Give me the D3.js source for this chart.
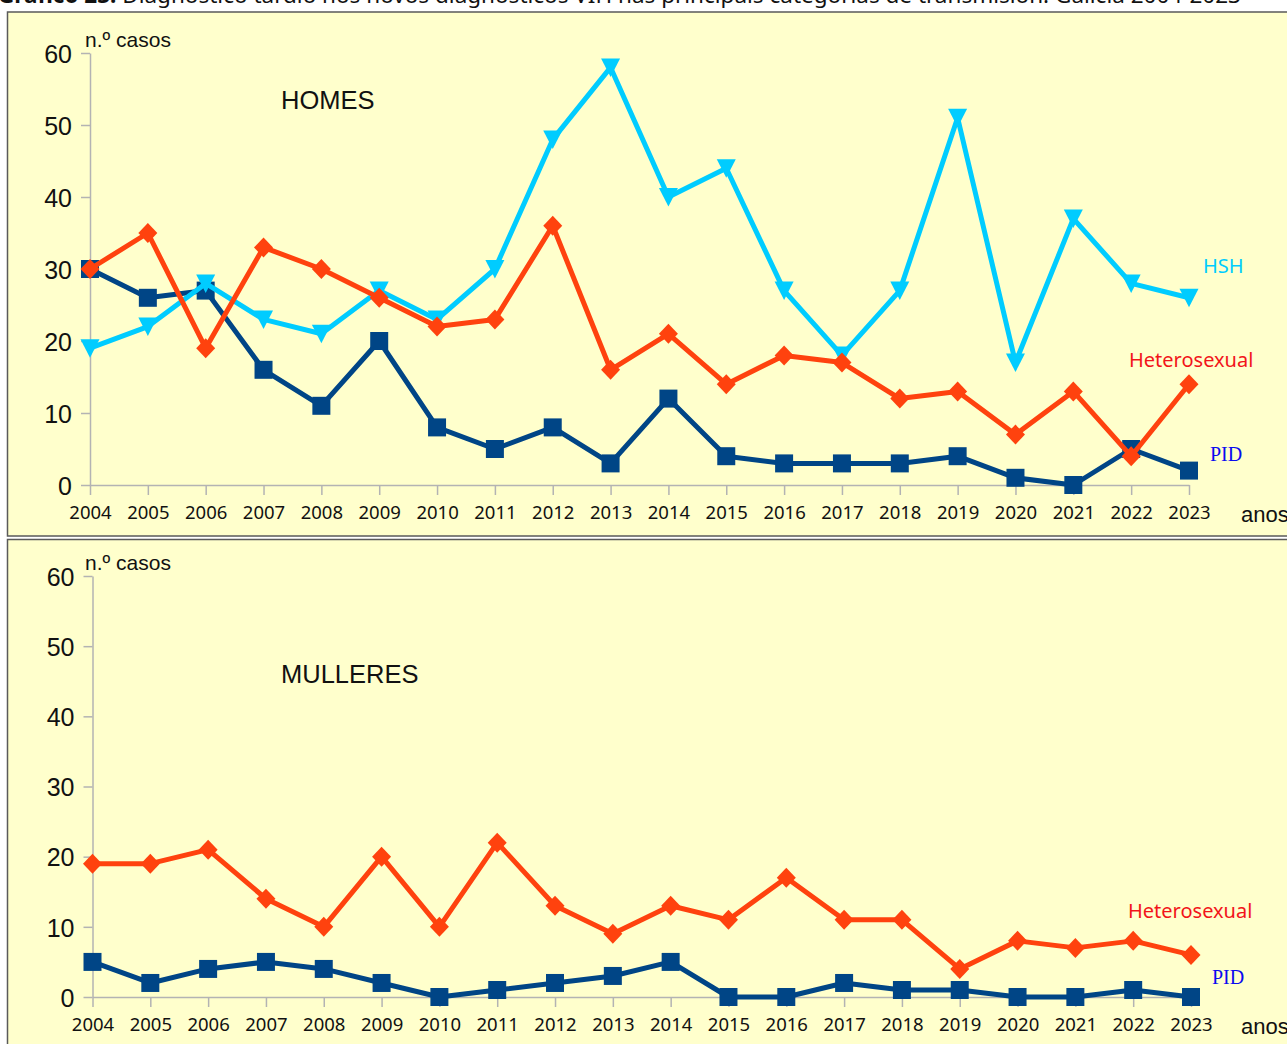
<!DOCTYPE html>
<html>
<head>
<meta charset="utf-8">
<script src="https://cdn.jsdelivr.net/npm/d3@7"></script>
<style>
    body { margin: 0; background: #ffffff; }
    svg { display: block; }
</style>
</head>
<body>
<svg id="chart"></svg>
<script>
// data
const years = [2004, 2005, 2006, 2007, 2008, 2009, 2010, 2011, 2012, 2013,
               2014, 2015, 2016, 2017, 2018, 2019, 2020, 2021, 2022, 2023];
const yTicks = [0, 10, 20, 30, 40, 50, 60];

// HOMES
const homesHSH    = [19, 22, 28, 23, 21, 27, 23, 30, 48, 58, 40, 44, 27, 18, 27, 51, 17, 37, 28, 26];
const homesHetero = [30, 35, 19, 33, 30, 26, 22, 23, 36, 16, 21, 14, 18, 17, 12, 13, 7, 13, 4, 14];
const homesPID    = [30, 26, 27, 16, 11, 20, 8, 5, 8, 3, 12, 4, 3, 3, 3, 4, 1, 0, 5, 2];

// MULLERES
const mulleresHetero = [19, 19, 21, 14, 10, 20, 10, 22, 13, 9, 13, 11, 17, 11, 11, 4, 8, 7, 8, 6];
const mulleresPID    = [5, 2, 4, 5, 4, 2, 0, 1, 2, 3, 5, 0, 0, 2, 1, 1, 0, 0, 1, 0];

const titleText = "Diagnóstico tardío nos novos diagnósticos VIH nas principais categorías de transmisión. Galicia 2004-2023";

const W = 1287, H = 1044;
const colors = { HSH: "#00ccff", Hetero: "#ff420e", PID: "#004586" };

// marker shapes
const markerPath = {
    square: "M-9,-9L9,-9L9,9L-9,9Z",
    diamond: "M0,-10L9.5,0L0,10L-9.5,0Z",
    triangleDown: "M-9.5,-9L9.5,-9L0,9.5Z"
};

const panels = [
    {
        title: "HOMES", boxTop: 12, boxBottom: 536,
        xRange: [90, 1189], yRange: [485, 53],
        series: [
            { values: homesPID, color: colors.PID, marker: "square" },
            { values: homesHSH, color: colors.HSH, marker: "triangleDown" },
            { values: homesHetero, color: colors.Hetero, marker: "diamond" }
        ],
        labels: [
            { text: "HSH", x: 1203, y: 273, color: "#00ccff", font: "Noto Sans" },
            { text: "Heterosexual", x: 1129, y: 367, color: "#f2141a", font: "Noto Sans" },
            { text: "PID", x: 1210, y: 461, color: "#0a0af0", font: "Liberation Serif" }
        ]
    },
    {
        title: "MULLERES", boxTop: 539.5, boxBottom: 1060,
        xRange: [92.5, 1191], yRange: [997, 576],
        series: [
            { values: mulleresPID, color: colors.PID, marker: "square" },
            { values: mulleresHetero, color: colors.Hetero, marker: "diamond" }
        ],
        labels: [
            { text: "Heterosexual", x: 1128, y: 918, color: "#f2141a", font: "Noto Sans" },
            { text: "PID", x: 1212, y: 984, color: "#0a0af0", font: "Liberation Serif" }
        ]
    }
];

const svg = d3.select("#chart")
    .attr("width", W)
    .attr("height", H);

// page title, mostly cut off at the top edge
const title = svg.append("text")
    .attr("x", -2)
    .attr("y", 3)
    .style("font-family", "Noto Sans")
    .style("font-size", "22.5px")
    .style("fill", "#111");
title.append("tspan").style("font-weight", "bold").text("Gráfico 23. ");
title.append("tspan").text(titleText);

panels.forEach(p => drawPanel(p));

function drawPanel(p) {
    const g = svg.append("g");

    // yellow frame
    g.append("rect")
        .attr("x", 7.5)
        .attr("y", p.boxTop)
        .attr("width", W + 10)
        .attr("height", p.boxBottom - p.boxTop)
        .style("fill", "#ffffcc")
        .style("stroke", "#5a5a5a")
        .style("stroke-width", 1.5);

    const x = d3.scalePoint()
        .domain(years)
        .range(p.xRange);

    const y = d3.scaleLinear()
        .domain([0, 60])
        .range(p.yRange);

    // y axis
    const yAxis = g.append("g")
        .attr("transform", `translate(${p.xRange[0]},0)`)
        .call(d3.axisLeft(y).tickValues(yTicks).tickSize(9).tickSizeOuter(0).tickPadding(9));
    yAxis.selectAll("text")
        .attr("dy", "0.37em")
        .style("font-family", "Liberation Sans")
        .style("font-size", "25px")
        .style("fill", "#111");

    // x axis
    const xAxis = g.append("g")
        .attr("transform", `translate(0,${p.yRange[0]})`)
        .call(d3.axisBottom(x).tickSize(10).tickSizeOuter(0).tickPadding(10.5));
    xAxis.selectAll("text")
        .style("font-family", "Noto Sans")
        .style("font-size", "18.5px")
        .style("fill", "#111");

    g.selectAll(".domain, .tick line")
        .style("stroke", "#b3b3b3")
        .style("stroke-width", 1.5);

    // axis titles
    g.append("text")
        .attr("x", 85)
        .attr("y", p.yRange[1] - 6)
        .style("font-family", "Liberation Sans")
        .style("font-size", "21px")
        .style("fill", "#111")
        .text("n.º casos");

    g.append("text")
        .attr("x", 1241)
        .attr("y", p.yRange[0] + 37)
        .style("font-family", "Liberation Sans")
        .style("font-size", "22px")
        .style("fill", "#111")
        .text("anos");

    g.append("text")
        .attr("x", 281)
        .attr("y", p.yRange[1] + (p.title === "HOMES" ? 56 : 107))
        .style("font-family", "Liberation Sans")
        .style("font-size", "25.5px")
        .style("fill", "#111")
        .text(p.title);

    const line = d3.line()
        .x((d, i) => x(years[i]))
        .y(d => y(d));

    // series: line first, then markers
    p.series.forEach(s => {
        g.append("path")
            .datum(s.values)
            .attr("d", line)
            .style("fill", "none")
            .style("stroke", s.color)
            .style("stroke-width", 5)
            .style("stroke-linejoin", "round");

        g.selectAll(null)
            .data(s.values)
            .join("path")
            .attr("transform", (d, i) => `translate(${x(years[i])},${y(d)})`)
            .attr("d", markerPath[s.marker])
            .style("fill", s.color);
    });

    // series labels
    p.labels.forEach(l => {
        g.append("text")
            .attr("x", l.x)
            .attr("y", l.y)
            .style("font-family", l.font)
            .style("font-size", "20px")
            .style("fill", l.color)
            .text(l.text);
    });
}
</script>
</body>
</html>
